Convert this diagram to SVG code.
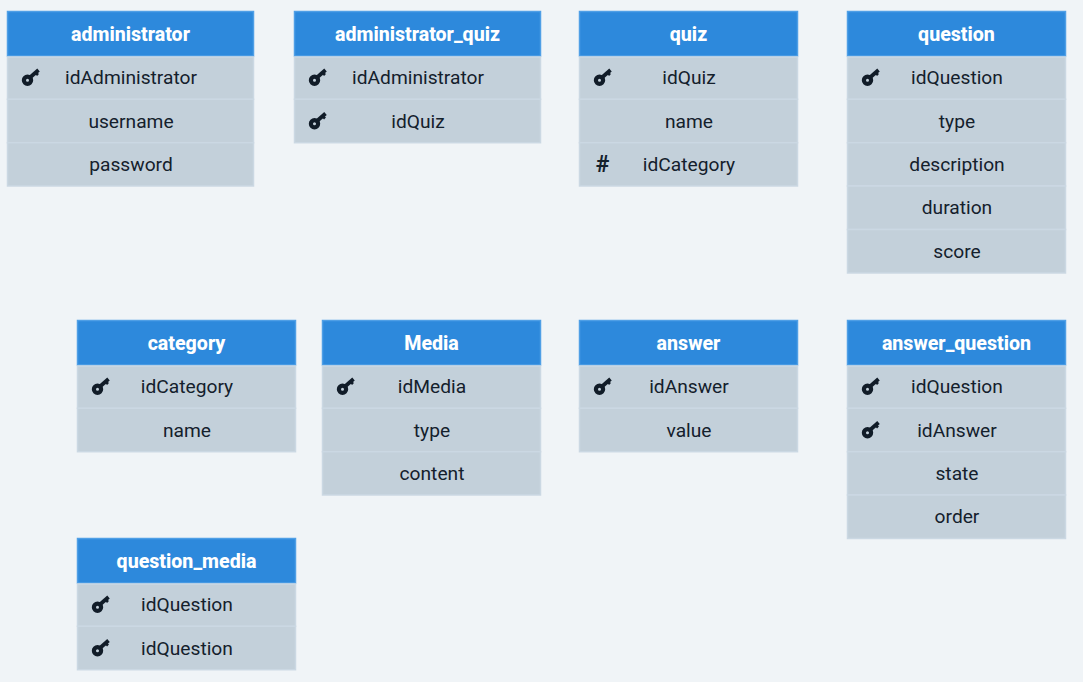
<svg xmlns="http://www.w3.org/2000/svg" width="1083" height="682" viewBox="0 0 1083 682">
<style>
.bg{fill:#f0f4f7}
.h{fill:#2d89dc;stroke:#4f9fe6;stroke-width:1.5}
.r{fill:#c3d0da;stroke:#cbd8e3;stroke-width:1.5}
text{font-family:"Roboto","Liberation Sans",sans-serif;text-anchor:middle}
.t{font-size:19.6px;font-weight:800;fill:#fff}
.c{font-size:19.2px;fill:#14202c}
.s{font-size:23px;font-weight:700;fill:#14202c}
</style>
<defs>
<g id="key"><circle cx="-4" cy="3.2" r="3.6" fill="none" stroke="#111c28" stroke-width="4.2"/><path d="M-1.500 0.500L7 -7" stroke="#111c28" stroke-width="3.800" fill="none"/><path d="M4 -4.500L6.500 -2" stroke="#111c28" stroke-width="2.600" fill="none"/></g>
</defs>
<rect class="bg" width="1083" height="682"/>
<g id="connectors"/>
<g id="administrator">
<rect class="h" x="7.500" y="11.500" width="246" height="44.500"/>
<rect class="r" x="7.500" y="57" width="246" height="42.300"/><rect class="r" x="7.500" y="99.300" width="246" height="43.400"/><rect class="r" x="7.500" y="142.700" width="246" height="43.300"/>
<text class="t" x="130.500" y="41">administrator</text>
<use href="#key" x="31.500" y="77"/>
<text class="c" x="131" y="84">idAdministrator</text><text class="c" x="131" y="127.500">username</text><text class="c" x="131" y="171">password</text>
</g>
<g id="administrator_quiz">
<rect class="h" x="294.500" y="11.500" width="246" height="44.500"/>
<rect class="r" x="294.500" y="57" width="246" height="42.300"/><rect class="r" x="294.500" y="99.300" width="246" height="43.400"/>
<text class="t" x="417.500" y="41">administrator_quiz</text>
<use href="#key" x="318.500" y="77"/><use href="#key" x="318.500" y="120.500"/>
<text class="c" x="418" y="84">idAdministrator</text><text class="c" x="418" y="127.500">idQuiz</text>
</g>
<g id="quiz">
<rect class="h" x="579.500" y="11.500" width="218" height="44.500"/>
<rect class="r" x="579.500" y="57" width="218" height="42.300"/><rect class="r" x="579.500" y="99.300" width="218" height="43.400"/><rect class="r" x="579.500" y="142.700" width="218" height="43.300"/>
<text class="t" x="688.500" y="41">quiz</text>
<use href="#key" x="603.500" y="77"/>
<text class="s" x="602.500" y="172">#</text>
<text class="c" x="689" y="84">idQuiz</text><text class="c" x="689" y="127.500">name</text><text class="c" x="689" y="171">idCategory</text>
</g>
<g id="question">
<rect class="h" x="847.500" y="11.500" width="218" height="44.500"/>
<rect class="r" x="847.500" y="57" width="218" height="42.300"/><rect class="r" x="847.500" y="99.300" width="218" height="43.400"/><rect class="r" x="847.500" y="142.700" width="218" height="43.300"/><rect class="r" x="847.500" y="186" width="218" height="43.500"/><rect class="r" x="847.500" y="229.500" width="218" height="43.500"/>
<text class="t" x="956.500" y="41">question</text>
<use href="#key" x="871.500" y="77"/>
<text class="c" x="957" y="84">idQuestion</text><text class="c" x="957" y="127.500">type</text><text class="c" x="957" y="171">description</text><text class="c" x="957" y="214">duration</text><text class="c" x="957" y="257.500">score</text>
</g>
<g id="category">
<rect class="h" x="77.500" y="320.500" width="218" height="44.500"/>
<rect class="r" x="77.500" y="366" width="218" height="42.300"/><rect class="r" x="77.500" y="408.300" width="218" height="43.400"/>
<text class="t" x="186.500" y="350">category</text>
<use href="#key" x="101.500" y="386"/>
<text class="c" x="187" y="393">idCategory</text><text class="c" x="187" y="436.500">name</text>
</g>
<g id="Media">
<rect class="h" x="322.500" y="320.500" width="218" height="44.500"/>
<rect class="r" x="322.500" y="366" width="218" height="42.300"/><rect class="r" x="322.500" y="408.300" width="218" height="43.400"/><rect class="r" x="322.500" y="451.700" width="218" height="43.300"/>
<text class="t" x="431.500" y="350">Media</text>
<use href="#key" x="346.500" y="386"/>
<text class="c" x="432" y="393">idMedia</text><text class="c" x="432" y="436.500">type</text><text class="c" x="432" y="480">content</text>
</g>
<g id="answer">
<rect class="h" x="579.500" y="320.500" width="218" height="44.500"/>
<rect class="r" x="579.500" y="366" width="218" height="42.300"/><rect class="r" x="579.500" y="408.300" width="218" height="43.400"/>
<text class="t" x="688.500" y="350">answer</text>
<use href="#key" x="603.500" y="386"/>
<text class="c" x="689" y="393">idAnswer</text><text class="c" x="689" y="436.500">value</text>
</g>
<g id="answer_question">
<rect class="h" x="847.500" y="320.500" width="218" height="44.500"/>
<rect class="r" x="847.500" y="366" width="218" height="42.300"/><rect class="r" x="847.500" y="408.300" width="218" height="43.400"/><rect class="r" x="847.500" y="451.700" width="218" height="43.300"/><rect class="r" x="847.500" y="495" width="218" height="43.500"/>
<text class="t" x="956.500" y="350">answer_question</text>
<use href="#key" x="871.500" y="386"/><use href="#key" x="871.500" y="429.500"/>
<text class="c" x="957" y="393">idQuestion</text><text class="c" x="957" y="436.500">idAnswer</text><text class="c" x="957" y="480">state</text><text class="c" x="957" y="523">order</text>
</g>
<g id="question_media">
<rect class="h" x="77.500" y="538.500" width="218" height="44.500"/>
<rect class="r" x="77.500" y="584" width="218" height="42.300"/><rect class="r" x="77.500" y="626.300" width="218" height="43.400"/>
<text class="t" x="186.500" y="568">question_media</text>
<use href="#key" x="101.500" y="604"/><use href="#key" x="101.500" y="647.500"/>
<text class="c" x="187" y="611">idQuestion</text><text class="c" x="187" y="654.500">idQuestion</text>
</g>
</svg>
